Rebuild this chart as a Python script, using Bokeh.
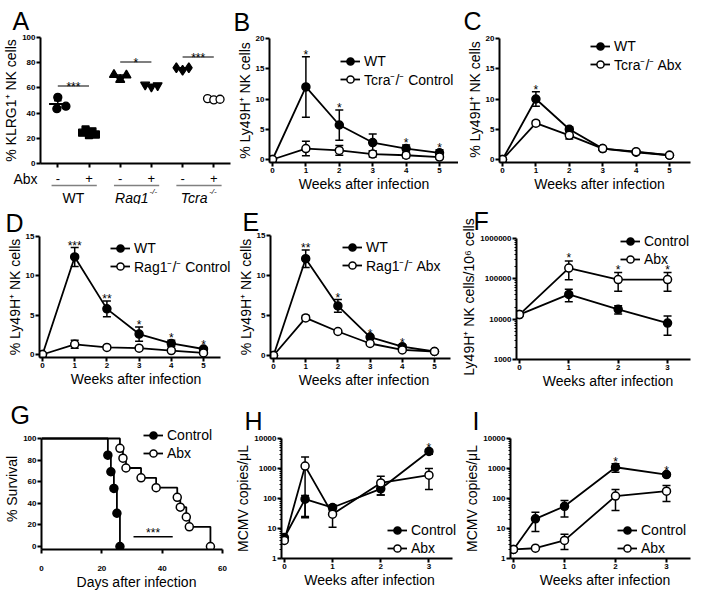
import numpy as np
from bokeh.plotting import figure
from bokeh.models import (ColumnDataSource, Whisker, TeeHead, Legend, LegendItem,
                          FixedTicker, Range1d, PrintfTickFormatter)
from bokeh.layouts import row, column
from bokeh.embed import file_html
from bokeh.resources import INLINE
from bokeh.core.properties import value

FONT = "Liberation Sans"

# ---------------- data ----------------
# Panel A  (% KLRG1+ NK cells)
a_abx_labels = ["-", "+", "-", "+", "-", "+"]
a_group_names = ["WT", "Rag1", "Tcra"]
a_group_sup = ["", "-/-", "-/-"]
a_wt_ctrl = [52.5, 43.5, 45.5]
a_wt_abx = [24.5, 27.0, 22.5, 25.5, 23.0]
a_rag_ctrl = [70.5, 66.5, 70.0]
a_rag_abx = [62.5, 61.0, 62.0]
a_tcra_ctrl = [76.0, 74.0, 76.0]
a_tcra_abx = [51.5, 50.5, 51.0]
a_dx_wt = [0.0, -0.03, 0.26]
a_dx3 = [-0.2, 0.0, 0.2]
a_dx5 = [-0.22, -0.11, 0.0, 0.11, 0.22]
a_sig_y = [61.5, 80.5, 84.5]
a_sig_text = ["***", "*", "***"]

# Panels B-E  (% Ly49H+ NK cells)
weeks5 = [0, 1, 2, 3, 4, 5]
b_wt = [0, 12.0, 5.7, 2.8, 1.8, 1.1]
b_wt_err = [0, 5.0, 2.5, 1.4, 0.6, 0.5]
b_ko = [0, 1.8, 1.5, 0.9, 0.7, 0.4]
b_ko_err = [0, 1.2, 0.8, 0.5, 0.4, 0.3]
b_stars = ["", "*", "*", "", "*", "*"]

c_wt = [0, 10.0, 5.0, 1.8, 1.2, 0.7]
c_wt_err = [0, 1.2, 0.4, 0.3, 0.2, 0.1]
c_ko = [0, 6.0, 4.0, 1.8, 1.3, 0.7]
c_ko_err = [0, 0.4, 0.6, 0.2, 0.2, 0.1]
c_stars = ["", "*", "", "", "", ""]

d_wt = [0, 12.4, 5.8, 2.6, 1.4, 0.7]
d_wt_err = [0, 1.2, 1.0, 0.9, 0.4, 0.2]
d_ko = [0, 1.3, 0.9, 0.8, 0.5, 0.2]
d_ko_err = [0, 0.5, 0.2, 0.2, 0.2, 0.1]
d_stars = ["", "***", "**", "*", "*", "*"]

e_wt = [0, 12.1, 6.2, 2.3, 1.1, 0.5]
e_wt_err = [0, 1.1, 0.8, 0.2, 0.2, 0.1]
e_ko = [0, 4.7, 3.0, 1.5, 0.7, 0.5]
e_ko_err = [0, 0.3, 0.1, 0.1, 0.1, 0.1]
e_stars = ["", "**", "*", "*", "*", ""]

# Panel F (Ly49H+ NK cells / 10^6 cells, log)
weeks3 = [0, 1, 2, 3]
f_ctrl = [13000, 41000, 17500, 8000]
f_ctrl_err = [0, 14000, 4000, 4000]
f_abx = [13000, 185000, 96000, 96000]
f_abx_err = [0, 90000, 47000, 47000]
f_stars = ["", "*", "*", "*"]

# Panel G (survival)
g_ctrl_days = [0, 22, 23, 24, 25, 26]
g_ctrl_surv = [100, 84.6, 69.2, 53.8, 30.8, 0]
g_abx_days = [0, 26, 27, 28, 33, 38, 45, 46, 48, 49, 56]
g_abx_surv = [100, 90.9, 81.8, 72.7, 63.6, 54.5, 45.5, 36.4, 27.3, 18.2, 0]
g_sig_x = [30.5, 43.5]
g_sig_y = 9

# Panels H, I (MCMV copies / uL, log)
hi_weeks = [0, 0.43, 1, 2, 3]
h_ctrl = [5, 95, 50, 210, 3700]
h_ctrl_lo = [5, 23, 40, 130, 3000]
h_ctrl_hi = [5, 125, 62, 290, 4200]
h_abx = [4, 1200, 30, 330, 600]
h_abx_lo = [4, 25, 11, 130, 200]
h_abx_hi = [4, 2400, 55, 550, 1000]
h_stars = ["", "", "", "", "*"]

i_ctrl = [2, 21, 55, 1100, 630]
i_ctrl_lo = [2, 8, 24, 750, 560]
i_ctrl_hi = [2, 35, 86, 1450, 700]
i_abx = [2, 2.2, 4, 120, 175]
i_abx_lo = [2, 2.2, 2, 40, 80]
i_abx_hi = [2, 2.2, 6.4, 200, 270]
i_stars = ["", "", "", "*", "*"]

# ---------------- layout helpers ----------------
COLS = [(0, 232), (232, 458), (458, 700)]
ROWS = [(0, 204), (204, 398), (398, 597)]
ITEM_H = 18.5


def pix2val(a, b, px, log=False):
    (pa, va), (pb, vb) = a, b
    if log:
        va, vb = np.log10(va), np.log10(vb)
    v = va + (px - pa) * (vb - va) / (pb - pa)
    return float(10 ** v) if log else float(v)


def make_fig(col, rw, frame, xa, ya, ax_r, ax_t, ylog=False):
    fl, fr, ft, fb = frame
    xr = Range1d(pix2val(xa[0], xa[1], fl), pix2val(xa[0], xa[1], fr))
    yr = Range1d(pix2val(ya[0], ya[1], fb, ylog), pix2val(ya[0], ya[1], ft, ylog))
    p = figure(width=col[1] - col[0], height=rw[1] - rw[0], x_range=xr, y_range=yr,
               y_axis_type="log" if ylog else "linear",
               min_border_left=fl - col[0], min_border_right=col[1] - fr,
               min_border_top=ft - rw[0], min_border_bottom=rw[1] - fb,
               output_backend="svg", toolbar_location=None)
    p.outline_line_color = None
    p.grid.visible = False
    p.xaxis.bounds = (pix2val(xa[0], xa[1], fl), pix2val(xa[0], xa[1], ax_r))
    p.yaxis.bounds = (pix2val(ya[0], ya[1], fb, ylog), pix2val(ya[0], ya[1], ax_t, ylog))
    for ax in p.axis:
        ax.axis_line_width = 2
        ax.axis_line_color = "black"
        ax.major_tick_line_width = 2
        ax.major_tick_out = 4
        ax.major_tick_in = 0
        ax.minor_tick_out = 2
        ax.minor_tick_in = 0
        ax.minor_tick_line_width = 1
        ax.major_label_text_font = FONT
        ax.major_label_text_font_size = "8px"
        ax.major_label_text_font_style = "bold"
        ax.major_label_text_color = "black"
        ax.major_label_standoff = 1
        ax.axis_label_text_font = FONT
        ax.axis_label_text_font_size = "14px"
        ax.axis_label_text_font_style = "normal"
        ax.axis_label_text_color = "black"
        ax.axis_label_standoff = 0
    return p


def letter(p, frame, text, lx, standoff):
    t = p.title
    t.text = text
    t.align = "left"
    t.offset = lx - frame[0]
    t.standoff = standoff
    t.text_font = FONT
    t.text_font_size = "25px"
    t.text_font_style = "normal"
    t.text_color = "black"


def series(p, x, y, lo, hi, filled):
    l = p.line(x, y, line_color="black", line_width=1.8)
    keep = [i for i in range(len(x)) if hi[i] > lo[i]]
    src = ColumnDataSource(dict(x=[x[i] for i in keep], lo=[lo[i] for i in keep],
                                hi=[hi[i] for i in keep]))
    w = Whisker(source=src, base="x", lower="lo", upper="hi", line_width=1.5, line_color="black",
                upper_head=TeeHead(size=8, line_width=1.5, line_color="black"),
                lower_head=TeeHead(size=8, line_width=1.5, line_color="black"))
    p.add_layout(w)
    s = p.scatter(x, y, marker="circle", size=8, line_color="black", line_width=1.5,
                  fill_color="black" if filled else "white")
    return [l, s]


def legend(p, frame, items, glyph_x, center1):
    fl, fr, ft, fb = frame
    loc = (glyph_x - fl, fb - (center1 - ITEM_H / 2 + 2 * ITEM_H))
    lg = Legend(items=[LegendItem(label=t, renderers=r) for t, r in items], location=loc,
                label_text_font=FONT, label_text_font_size="14px", label_text_color="black",
                glyph_width=20, glyph_height=18, label_height=18, spacing=0, padding=0,
                margin=0, label_standoff=4, border_line_color=None, background_fill_alpha=0)
    p.add_layout(lg)


def stars(p, x, tops, labels, yoff=-2):
    xs, ys, ts = [], [], []
    for xi, t, lab in zip(x, tops, labels):
        if lab:
            xs.append(xi)
            ys.append(t)
            ts.append(lab)
    p.text(xs, ys, text=ts, text_font=value(FONT), text_font_size="12px",
           text_align="center", text_baseline="alphabetic", y_offset=yoff, text_color="black")


def line_panel(col, rw, frame, xa, ya, ax_r, ax_t, ylog, x, s1, s2, labels, star_labels,
               ticks_x, ticks_y, xlabel, ylabel, let, leg, star_yoff=-2):
    p = make_fig(col, rw, frame, xa, ya, ax_r, ax_t, ylog)
    p.xaxis.ticker = FixedTicker(ticks=ticks_x)
    if ylog:
        minors = [m * t for t in ticks_y[:-1] for m in range(2, 10)]
        p.yaxis.ticker = FixedTicker(ticks=ticks_y, minor_ticks=minors)
        p.yaxis.formatter = PrintfTickFormatter(format="%d")
    else:
        p.yaxis.ticker = FixedTicker(ticks=ticks_y)
    p.xaxis.axis_label = xlabel
    p.yaxis.axis_label = ylabel
    r1 = series(p, x, s1[0], s1[1], s1[2], True)
    r2 = series(p, x, s2[0], s2[1], s2[2], False)
    tops = [max(a, b) for a, b in zip(s1[2], s2[2])]
    stars(p, x, tops, star_labels, star_yoff)
    legend(p, frame, [(labels[0], r1), (labels[1], r2)], leg[0], leg[1])
    letter(p, frame, let[0], let[1], let[2])
    return p


def sym(v, e):
    return (v, [a - b for a, b in zip(v, e)], [a + b for a, b in zip(v, e)])


WEEKS = "Weeks after infection"
LY = "% Ly49H\u207a NK cells"

# ---------------- Panel A ----------------
A_ROW = (0, 169)
A_MINI_ROW = (169, 204)
fA = (40, 230, 37, 163)
xaA = ((57.3, 0), (213.3, 5))
pA = make_fig(COLS[0], A_ROW, fA, xaA, ((163, 0), (37, 100)), 230, 37)
pA.yaxis.ticker = FixedTicker(ticks=[0, 20, 40, 60, 80, 100])
pA.xaxis.ticker = FixedTicker(ticks=[0, 1, 2, 3, 4, 5])
pA.xaxis.major_label_text_font_size = "1px"
pA.xaxis.major_label_text_alpha = 0
pA.xaxis.major_label_standoff = 0
pA.yaxis.axis_label = "% KLRG1\u207a NK cells"
a_sets = [(a_wt_ctrl, a_dx_wt, "circle", 8, True), (a_wt_abx, a_dx5, "square", 7, True),
          (a_rag_ctrl, a_dx3, "triangle", 9, True), (a_rag_abx, a_dx3, "inverted_triangle", 9, True),
          (a_tcra_ctrl, a_dx3, "diamond", 10, True), (a_tcra_abx, a_dx3, "circle", 8, False)]
for i, (vals, dx, mk, sz, filled) in enumerate(a_sets):
    m = float(np.mean(vals))
    s = float(np.std(vals, ddof=1) / np.sqrt(len(vals)))
    pA.segment([i - 0.28], [m], [i + 0.28], [m], line_color="black", line_width=2)
    pA.segment([i], [m - s], [i], [m + s], line_color="black", line_width=1.5)
    pA.segment([i - 0.12, i - 0.12], [m - s, m + s], [i + 0.12, i + 0.12], [m - s, m + s],
               line_color="black", line_width=1.5)
    pA.scatter([i + d for d in dx], vals, marker=mk, size=sz, line_color="black", line_width=1.3,
               fill_color="black" if filled else "white")
sig_x0 = [2 * g for g in range(3)]
pA.segment(sig_x0, a_sig_y, [x + 1 for x in sig_x0], a_sig_y, line_color="#555555", line_width=1.5)
pA.text([x + 0.5 for x in sig_x0], a_sig_y, text=a_sig_text, text_font=value(FONT),
        text_font_size="12px", text_align="center", text_baseline="alphabetic", y_offset=1,
        text_color="black")
letter(pA, fA, "A", 12, 5)

# strip under A: Abx row, group underlines and group names
ABX_Y, LINE_Y, GROUP_Y = 178, 185, 197
pAm = figure(width=COLS[0][1] - COLS[0][0], height=A_MINI_ROW[1] - A_MINI_ROW[0],
             x_range=Range1d(pix2val(xaA[0], xaA[1], fA[0]), pix2val(xaA[0], xaA[1], fA[1])),
             y_range=Range1d(A_MINI_ROW[1], A_MINI_ROW[0]),
             min_border_left=fA[0] - COLS[0][0], min_border_right=COLS[0][1] - fA[1],
             min_border_top=0, min_border_bottom=0, output_backend="svg", toolbar_location=None)
pAm.xaxis.visible = False
pAm.grid.visible = False
pAm.outline_line_color = None
pAm.yaxis.ticker = FixedTicker(ticks=[ABX_Y])
pAm.yaxis.major_label_overrides = {ABX_Y: "Abx"}
pAm.yaxis.axis_line_color = None
pAm.yaxis.major_tick_line_color = None
pAm.yaxis.minor_tick_line_color = None
pAm.yaxis.major_tick_out = 0
pAm.yaxis.major_label_standoff = 3
pAm.yaxis.major_label_text_font = FONT
pAm.yaxis.major_label_text_font_size = "14px"
pAm.yaxis.major_label_text_color = "black"
pAm.text(list(range(6)), [ABX_Y] * 6, text=a_abx_labels, text_font=value(FONT),
         text_font_size="13px", text_align="center", text_baseline="middle", text_color="black")
pAm.segment([2 * g - 0.2 for g in range(3)], [LINE_Y] * 3, [2 * g + 1.25 for g in range(3)],
            [LINE_Y] * 3, line_color="#808080", line_width=1.5)
for g, (nm, sup) in enumerate(zip(a_group_names, a_group_sup)):
    if sup:
        w = 33.5 if nm == "Rag1" else 28
        pAm.text([2 * g + 0.5], [GROUP_Y], text=[nm], text_font=value(FONT), text_font_size="14px",
                 text_font_style="italic", text_align="center", text_baseline="middle",
                 x_offset=-4, text_color="black")
        pAm.text([2 * g + 0.5], [GROUP_Y], text=[sup], text_font=value(FONT), text_font_size="8px",
                 text_font_style="italic", text_align="left", text_baseline="middle",
                 x_offset=w / 2 - 3, y_offset=-6, text_color="black")
    else:
        pAm.text([2 * g + 0.5], [GROUP_Y], text=[nm], text_font=value(FONT), text_font_size="14px",
                 text_align="center", text_baseline="middle", text_color="black")

# ---------------- Panels B - I ----------------
fB = (269, 458, 38, 162)
pB = line_panel(COLS[1], ROWS[0], fB, ((272, 0), (439, 5)), ((159, 0), (38, 20)), 458, 38, False,
                weeks5, sym(b_wt, b_wt_err), sym(b_ko, b_ko_err), ["WT", "Tcra\u207b/\u207b Control"],
                b_stars, weeks5, [0, 5, 10, 15, 20], WEEKS, LY, ("B", 233, 5), (340, 61))

fC = (499, 699, 36, 162)
pC = line_panel(COLS[2], ROWS[0], fC, ((502, 0), (669, 5)), ((159, 0), (38, 20)), 690, 38, False,
                weeks5, sym(c_wt, c_wt_err), sym(c_ko, c_ko_err), ["WT", "Tcra\u207b/\u207b Abx"],
                c_stars, weeks5, [0, 5, 10, 15, 20], WEEKS, LY, ("C", 463, 3), (590, 46))

fD = (39, 232, 236, 357)
pD = line_panel(COLS[0], ROWS[1], fD, ((42, 0), (203, 5)), ((354, 0), (236, 15)), 220, 236, False,
                weeks5, sym(d_wt, d_wt_err), sym(d_ko, d_ko_err), ["WT", "Rag1\u207b/\u207b Control"],
                d_stars, weeks5, [0, 5, 10, 15], WEEKS, LY, ("D", 5, 0), (110, 248))

fE = (270, 457, 235, 358)
pE = line_panel(COLS[1], ROWS[1], fE, ((273, 0), (434, 5)), ((355, 0), (235, 15)), 450, 235, False,
                weeks5, sym(e_wt, e_wt_err), sym(e_ko, e_ko_err), ["WT", "Rag1\u207b/\u207b Abx"],
                e_stars, weeks5, [0, 5, 10, 15], WEEKS, LY, ("E", 242, 0), (342, 247))

fF = (510, 699, 234, 359)
pF = line_panel(COLS[2], ROWS[1], fF, ((513, 0), (666, 3)), ((359, 1e3), (238, 1e6)), 690, 238,
                True, weeks3, sym(f_ctrl, f_ctrl_err), sym(f_abx, f_abx_err), ["Control", "Abx"],
                f_stars, weeks3, [1000, 10000, 100000, 1000000], WEEKS,
                "Ly49H\u207a NK cells/10\u2076 cells", ("F", 467, 0), (614, 240), star_yoff=-3)

fH = (272, 457, 438, 558)
pH = line_panel(COLS[1], ROWS[2], fH, ((275, 0), (427, 3)), ((558, 1), (438, 1e4)), 452, 438, True,
                hi_weeks, (h_ctrl, h_ctrl_lo, h_ctrl_hi), (h_abx, h_abx_lo, h_abx_hi),
                ["Control", "Abx"], h_stars, [0, 1, 2, 3], [1, 10, 100, 1000, 10000], WEEKS,
                "MCMV copies/\u03bcL", ("H", 235, 8), (378, 529))

fI = (510, 699, 438, 558)
pI = line_panel(COLS[2], ROWS[2], fI, ((513, 0), (666, 3)), ((558, 1), (438, 1e4)), 690, 438, True,
                hi_weeks, (i_ctrl, i_ctrl_lo, i_ctrl_hi), (i_abx, i_abx_lo, i_abx_hi),
                ["Control", "Abx"], i_stars, [0, 1, 2, 3], [1, 10, 100, 1000, 10000], WEEKS,
                "MCMV copies/\u03bcL", ("I", 472, 8), (617, 529))

# Panel G survival
fG = (41, 231, 428, 549)
pG = make_fig(COLS[0], ROWS[2], fG, ((41, 0), (222, 60)), ((546, 0), (438, 100)), 222, 438)
pG.xaxis.ticker = FixedTicker(ticks=[0, 20, 40, 60])
pG.yaxis.ticker = FixedTicker(ticks=[0, 20, 40, 60, 80, 100])
pG.xaxis.major_label_standoff = 12
pG.xaxis.axis_label = "Days after infection"
pG.yaxis.axis_label = "% Survival"
gl1 = pG.step(g_ctrl_days, g_ctrl_surv, mode="after", line_color="black", line_width=1.8)
gs1 = pG.scatter(g_ctrl_days[1:], g_ctrl_surv[1:], marker="circle", size=8, line_color="black",
                 line_width=1.5, fill_color="black")
gl2 = pG.step(g_abx_days, g_abx_surv, mode="after", line_color="black", line_width=1.8)
gs2 = pG.scatter(g_abx_days[1:], g_abx_surv[1:], marker="circle", size=8, line_color="black",
                 line_width=1.5, fill_color="white")
pG.segment([g_sig_x[0]], [g_sig_y], [g_sig_x[1]], [g_sig_y], line_color="black", line_width=1.5)
pG.text([(g_sig_x[0] + g_sig_x[1]) / 2], [g_sig_y], text=["***"], text_font=value(FONT),
        text_font_size="12px", text_align="center", text_baseline="alphabetic", y_offset=-4,
        text_color="black")
legend(pG, fG, [("Control", [gl1, gs1]), ("Abx", [gl2, gs2])], 143, 434)
letter(pG, fG, "G", 10, 0)

# each plot wrapped in its own column so that rows do not align the plot frames
layout = column(
    row(column(pA, pAm), column(pB), column(pC)),
    row(column(pD), column(pE), column(pF)),
    row(column(pG), column(pH), column(pI)),
)
open("out.html", "w").write(file_html(layout, INLINE))
